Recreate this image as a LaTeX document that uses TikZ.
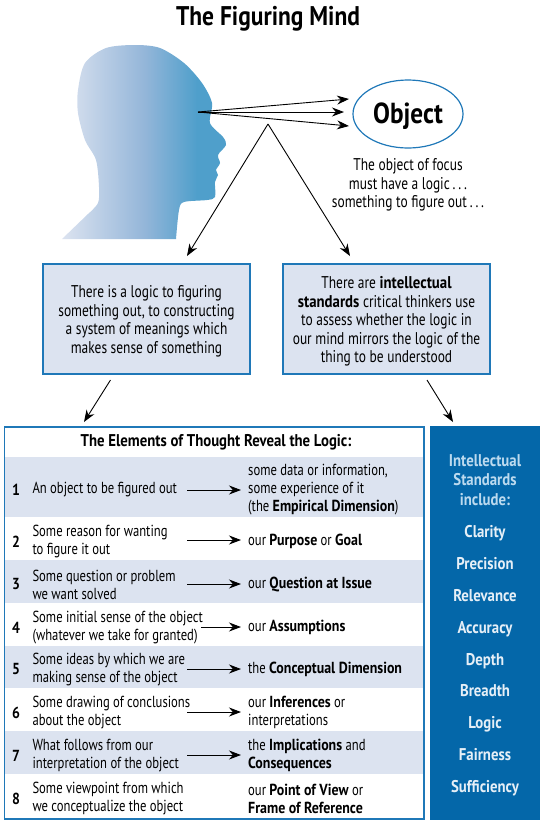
\documentclass[tikz,border=0pt]{standalone}
\usepackage{fontspec}
\setmainfont{PT Sans}[FakeStretch=0.79,BoldFeatures={FakeStretch=0.87}]
\usetikzlibrary{arrows.meta,shapes.geometric}
\definecolor{rule}{HTML}{1F78B8}
\definecolor{band}{HTML}{DCE3F0}
\definecolor{panel}{HTML}{0467A9}
\definecolor{panelhead}{HTML}{BCDAEF}
\definecolor{panelword}{HTML}{E6EFF7}
\definecolor{headmid}{HTML}{94B6D9}
\definecolor{headface}{HTML}{4F9FCB}
\pgfdeclarehorizontalshading{headfade}{100bp}{color(0bp)=(band); color(25bp)=(band); color(50bp)=(headmid); color(66bp)=(headface); color(100bp)=(headface)}
\begin{document}
\begin{tikzpicture}[x=1pt,y=-1pt]
	\tikzstyle{title} = [inner sep=0,font=\fontsize{27}{30}\selectfont\bfseries]
	\tikzstyle{plain} = [inner sep=0,align=center,font=\fontsize{17}{18.5}\selectfont]
	\tikzstyle{textbox} = [draw=rule,line width=1.2,fill=band,inner sep=0,minimum width=207,minimum height=110]
	\tikzstyle{number} = [inner sep=0,yshift=-1.5,font=\fontsize{16}{18}\selectfont\bfseries]
	\tikzstyle{rowtext} = [inner sep=0,anchor=west,align=left,yshift=-1.5,font=\fontsize{16}{18}\selectfont]
	\tikzstyle{headword} = [inner sep=0,align=center,yshift=1,text=panelhead,font=\fontsize{17}{19.5}\selectfont\bfseries]
	\tikzstyle{standard} = [inner sep=0,text height=12,text depth=4,text=panelword,font=\fontsize{17}{19}\selectfont\bfseries]
	\tikzstyle{bigarrow} = [-{Stealth[length=12,width=9]},line width=0.9]
	\tikzstyle{rowarrow} = [-{Stealth[length=12,width=9]},line width=0.9]
	\useasboundingbox (0,0) rectangle (556,831);
\shade [shading=headfade] (62,239) -- plot [smooth] coordinates {(88,214) (98,203) (99,187) (96,160) (85,140) (78,113) (78,90) (85,63) (106,48) (135,45) (160,48) (184,63) (202,83) (212,103) (210,123) (223,137) (226,145) (218,155) (220,163) (216,170) (218,175) (215,182) (215,197) (207,200) (184,202) (179,210) (176,239)} -- cycle;
\node [title] (title) at (268,18.5) {The Figuring Mind};
\node [draw=rule,line width=1.2,ellipse,minimum width=110,minimum height=68,inner sep=0] (object) at (408,114) {};
\node [inner sep=0,font=\fontsize{29}{32}\selectfont\bfseries] (objectname) at (408,116) {Object};
\node [plain] (focus) at (408,185) {The object of focus\\must have a logic\,.\,.\,.\\something to figure out\,.\,.\,.};
\node [textbox] (logic) at (146.5,319) {};
\node [textbox] (standards) at (386.5,319) {};
\node [plain] (logictext) at (146.5,321.5) {There is a logic to figuring\\something out, to constructing\\a system of meanings which\\makes sense of something};
\node [plain] (standardstext) at (386.5,321.5) {There are \textbf{intellectual}\\\textbf{standards} critical thinkers use\\to assess whether the logic in\\our mind mirrors the logic of the\\thing to be understood};
\coordinate (eye) at (198,112);
\coordinate (top) at (349,99);
\coordinate (mid) at (344,112);
\coordinate (low) at (349,126);
\coordinate (apex) at (268,124);
\coordinate (downl) at (187,256);
\coordinate (downr) at (350,256);
\coordinate (logicfoot) at (110.5,380);
\coordinate (standardsfoot) at (427,380);
\coordinate (elementstop) at (84,422);
\coordinate (paneltop) at (453,422);
\draw [bigarrow] (eye) -- (top);
\draw [bigarrow] (eye) -- (mid);
\draw [bigarrow] (eye) -- (low);
\draw [bigarrow] (apex) -- (downl);
\draw [bigarrow] (apex) -- (downr);
\draw [bigarrow] (logicfoot) -- (elementstop);
\draw [bigarrow] (standardsfoot) -- (paneltop);

\draw [draw=rule,line width=1.2,fill=white] (4.8,427) rectangle (424,819);
\fill [band] (5.4,457) rectangle (423.4,517);
\fill [band] (5.4,560) rectangle (423.4,603);
\fill [band] (5.4,646) rectangle (423.4,688);
\fill [band] (5.4,731) rectangle (423.4,774);
\fill [panel] (430,426) rectangle (540,820);
\node [inner sep=0,font=\fontsize{17}{18}\selectfont\bfseries] (elements) at (216,442) {The Elements of Thought Reveal the Logic:};

\node [number] (n1) at (16,488) {1};
\node [number] (n2) at (16,540) {2};
\node [number] (n3) at (16,583) {3};
\node [number] (n4) at (16,626) {4};
\node [number] (n5) at (16,668) {5};
\node [number] (n6) at (16,711) {6};
\node [number] (n7) at (16,754) {7};
\node [number] (n8) at (16,797) {8};
\node [rowtext] (l1) at (32.3,488) {An object to be figured out};
\node [rowtext] (l2) at (32.3,540) {Some reason for wanting\\to figure it out};
\node [rowtext] (l3) at (32.3,583) {Some question or problem\\we want solved};
\node [rowtext] (l4) at (32.3,626) {Some initial sense of the object\\(whatever we take for granted)};
\node [rowtext] (l5) at (32.3,668) {Some ideas by which we are\\making sense of the object};
\node [rowtext] (l6) at (32.3,711) {Some drawing of conclusions\\about the object};
\node [rowtext] (l7) at (32.3,754) {What follows from our\\interpretation of the object};
\node [rowtext] (l8) at (32.3,797) {Some viewpoint from which\\we conceptualize the object};
\node [rowtext] (r1) at (248,488) {some data or information,\\some experience of it\\(the \textbf{Empirical Dimension})};
\node [rowtext] (r2) at (248,540) {our \textbf{Purpose} or \textbf{Goal}};
\node [rowtext] (r3) at (248,583) {our \textbf{Question at Issue}};
\node [rowtext] (r4) at (248,626) {our \textbf{Assumptions}};
\node [rowtext] (r5) at (248,668) {the \textbf{Conceptual Dimension}};
\node [rowtext] (r6) at (248,711) {our \textbf{Inferences} or\\interpretations};
\node [rowtext] (r7) at (248,754) {the \textbf{Implications} and\\\textbf{Consequences}};
\node [rowtext] (r8) at (248,797) {our \textbf{Point of View} or\\\textbf{Frame of Reference}};
\coordinate (a1) at (187,490);
\coordinate (b1) at (241,490);
\coordinate (a2) at (187,540);
\coordinate (b2) at (241,540);
\coordinate (a3) at (187,584);
\coordinate (b3) at (241,584);
\coordinate (a4) at (201,627);
\coordinate (b4) at (241,627);
\coordinate (a5) at (187,669);
\coordinate (b5) at (241,669);
\coordinate (a6) at (187,712);
\coordinate (b6) at (241,712);
\coordinate (a7) at (187,755);
\coordinate (b7) at (241,755);
\draw [rowarrow] (a1) -- (b1);
\draw [rowarrow] (a2) -- (b2);
\draw [rowarrow] (a3) -- (b3);
\draw [rowarrow] (a4) -- (b4);
\draw [rowarrow] (a5) -- (b5);
\draw [rowarrow] (a6) -- (b6);
\draw [rowarrow] (a7) -- (b7);

\node [headword] (include) at (485,481) {Intellectual\\Standards\\include:};
\node [standard] (s1) at (485,533) {Clarity};
\node [standard] (s2) at (485,565) {Precision};
\node [standard] (s3) at (485,597) {Relevance};
\node [standard] (s4) at (485,629) {Accuracy};
\node [standard] (s5) at (485,661) {Depth};
\node [standard] (s6) at (485,692) {Breadth};
\node [standard] (s7) at (485,724) {Logic};
\node [standard] (s8) at (485,756) {Fairness};
\node [standard] (s9) at (485,788) {Sufficiency};
\end{tikzpicture}
\end{document}
